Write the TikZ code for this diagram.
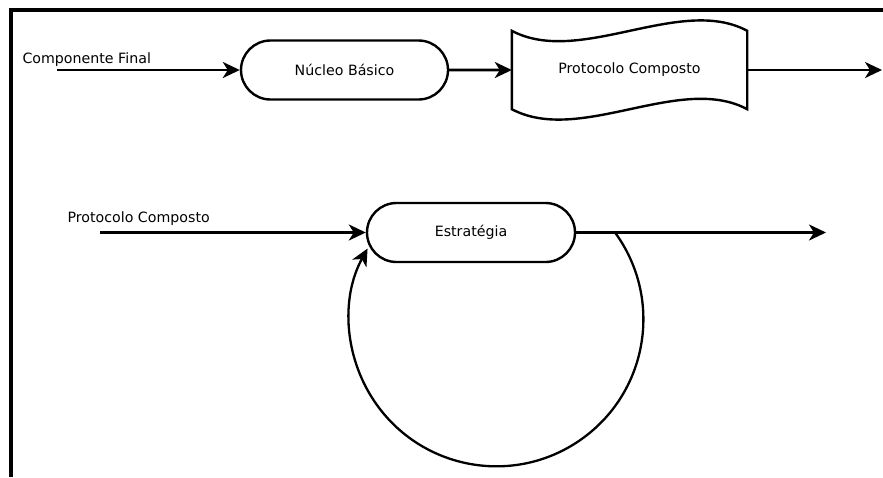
\documentclass[tikz,border=0pt]{standalone}
\usepackage{fontspec}
\setmainfont{DejaVu Sans}
\usetikzlibrary{arrows.meta,shapes.misc,calc}

\tikzset{
  flow/.style={line width=2.6pt, -{Stealth[length=17pt,width=16pt,inset=5pt]}},
  stadium/.style={rounded rectangle, draw, line width=2.4pt, inner sep=0pt,
                  minimum width=207pt, minimum height=59pt},
  txt/.style={font=\fontsize{14.2}{17}\selectfont},
  frameline/.style={line width=3.4pt}
}

\begin{document}
\begin{tikzpicture}[x=1pt,y=1pt,txt]
  \useasboundingbox (0,0) rectangle (883,-477);

  % open frame: left and top edges
  \coordinate (fbl) at (11,-477);
  \coordinate (ftl) at (11,-10);
  \coordinate (ftr) at (883,-10);
  \draw[frameline] (fbl) -- (ftl) -- (ftr);

  % ---- first row ----
  \node[stadium] (nucleo) at (344.5,-70) {Núcleo Básico};
  \node[minimum width=235pt, minimum height=78pt, inner sep=0pt] (doc) at (629.5,-70) {Protocolo Composto};
  \draw[line width=2.4pt]
    (doc.north west) .. controls ([shift={(68,-36)}]doc.north west) and ([shift={(-67,36)}]doc.north east) .. (doc.north east)
    -- (doc.south east)
    .. controls ([shift={(-67,36)}]doc.south east) and ([shift={(68,-36)}]doc.south west) .. (doc.south west)
    -- cycle;

  \coordinate (in1) at (57,-70);
  \coordinate (out1) at (882,-70);
  \node[anchor=base west] (lbl1) at (19,-63) {Componente Final};
  \draw[flow] (in1) -- (nucleo);
  \draw[flow] (nucleo) -- (doc);
  \draw[flow] (doc) -- (out1);

  % ---- second row ----
  \node[stadium, minimum width=208pt] (estr) at (471,-232.5) {Estratégia};
  \coordinate (in2) at (100,-232.5);
  \coordinate (out2) at (826,-232.5);
  \node[anchor=base west] (lbl2) at (64,-222) {Protocolo Composto};
  \draw[flow] (in2) -- (estr);
  \draw[flow] (estr) -- (out2);

  % feedback loop leaving the output line and re-entering the strategy
  \coordinate (split) at (615,-232.5);
  \draw[flow, line width=2.3pt] (split) arc[start angle=36.2, end angle=-208.8, radius=147];
\end{tikzpicture}
\end{document}
